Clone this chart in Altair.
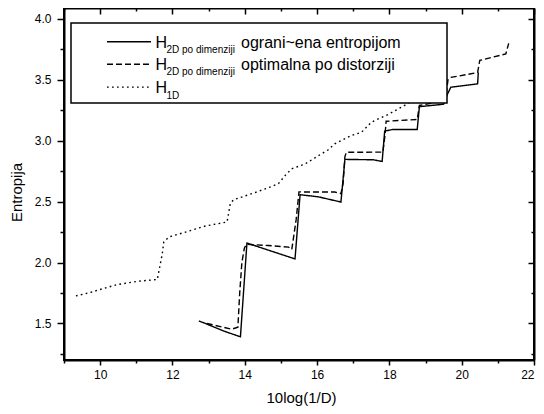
import altair as alt
import pandas as pd

# ---- data ----
h1d_x = [9.33, 9.79, 9.93, 10.48, 11.07, 11.58, 11.63, 11.72, 11.76, 11.90, 12.36, 12.91,
         13.51, 13.60, 13.69, 14.20, 14.66, 14.93, 15.12, 15.30, 15.67, 15.94, 16.31, 16.49,
         16.95, 17.23, 17.50, 17.69, 17.96, 18.42, 19.00]
h1d_y = [1.726, 1.759, 1.773, 1.820, 1.847, 1.861, 1.937, 2.074, 2.169, 2.210, 2.250, 2.300,
         2.333, 2.484, 2.516, 2.566, 2.615, 2.648, 2.716, 2.770, 2.810, 2.860, 2.926, 2.975,
         3.043, 3.070, 3.152, 3.180, 3.215, 3.290, 3.400]

ent_x = [12.73, 12.87, 13.40, 13.88, 14.06, 15.39, 15.53, 16.03, 16.66, 16.77, 17.55, 17.80,
         17.87, 18.10, 18.77, 18.83, 19.50, 19.61, 19.70, 20.44, 20.46]
ent_y = [1.520, 1.505, 1.440, 1.390, 2.160, 2.030, 2.557, 2.540, 2.497, 2.847, 2.844, 2.830,
         3.079, 3.093, 3.093, 3.280, 3.300, 3.385, 3.440, 3.467, 3.560]

dist_x = [12.95, 13.64, 13.81, 13.86, 13.92, 13.99, 14.05, 14.65, 15.21, 15.30, 15.42, 15.50,
          16.49, 16.66, 16.72, 16.77, 16.81, 17.82, 17.88, 17.91, 18.77, 18.83, 19.55, 19.62,
          19.70, 20.44, 20.50, 21.22, 21.30]
dist_y = [1.500, 1.453, 1.470, 1.750, 2.000, 2.120, 2.150, 2.140, 2.127, 2.107, 2.350, 2.580,
          2.579, 2.565, 2.650, 2.870, 2.905, 2.907, 3.050, 3.160, 3.175, 3.290, 3.330, 3.500,
          3.520, 3.560, 3.660, 3.713, 3.800]

series_keys = ["ent", "dist", "h1d"]
legend_sub = ["2D po dimenziji", "2D po dimenziji", "1D"]
legend_main = ["ograni~ena entropijom", "optimalna po distorziji", ""]

x_domain = [9, 22]
y_domain = [1.2, 4.09]
x_major = [10, 12, 14, 16, 18, 20, 22]
x_minor = [9, 11, 13, 15, 17, 19, 21]
y_major = [1.5, 2.0, 2.5, 3.0, 3.5, 4.0]
y_minor = [1.25, 1.75, 2.25, 2.75, 3.25, 3.75]

# ---- build table ----
frames = []
for key, xs_, ys_ in zip(series_keys, [ent_x, dist_x, h1d_x], [ent_y, dist_y, h1d_y]):
    frames.append(pd.DataFrame({"x": xs_, "y": ys_, "series": key, "i": range(len(xs_))}))
df = pd.concat(frames, ignore_index=True)

FONT = "Liberation Sans"
dashes = [[1, 0], [6, 3], [1.7, 3.3]]

xs = alt.Scale(domain=x_domain, nice=False, zero=False)
ys = alt.Scale(domain=y_domain, nice=False, zero=False)


def axis_layer(xaxis, yaxis):
    return alt.Chart(df).mark_point(opacity=0, size=1).encode(
        x=alt.X("x:Q", scale=xs, axis=xaxis),
        y=alt.Y("y:Q", scale=ys, axis=yaxis),
    )


common = dict(grid=False, tickColor="black", tickWidth=1.5,
              labelFont=FONT, labelFontSize=12, labelColor="black")

lines = alt.Chart(df).mark_line(color="black", strokeWidth=1.4).encode(
    x=alt.X("x:Q", scale=xs, axis=alt.Axis(
        orient="bottom", values=x_major, tickSize=5, labelPadding=4,
        domain=True, domainColor="black", domainWidth=2,
        title="10log(1/D)", titleFont=FONT, titleFontSize=15, titleFontWeight="normal",
        titleColor="black", titleX=237, titleY=42, titleAlign="center",
        titleBaseline="alphabetic", **common)),
    y=alt.Y("y:Q", scale=ys, axis=alt.Axis(
        orient="left", values=y_major, tickSize=7, labelPadding=6, format=".1f",
        domain=True, domainColor="black", domainWidth=2,
        title="Entropija", titleFont=FONT, titleFontSize=15, titleFontWeight="normal",
        titleColor="black", titleX=-43, titleY=184, titleAlign="center",
        titleBaseline="alphabetic", **common)),
    strokeDash=alt.StrokeDash("series:N", scale=alt.Scale(domain=series_keys, range=dashes),
                              legend=None),
    detail="series:N",
    order="i:Q",
)

minor_bl = axis_layer(
    alt.Axis(orient="bottom", values=x_minor, tickSize=3, labels=False, domain=False, title=None, **common),
    alt.Axis(orient="left", values=y_minor, tickSize=4, labels=False, domain=False, title=None, **common),
)
major_tr = axis_layer(
    alt.Axis(orient="top", values=x_major, tickSize=6, offset=-6, labels=False, domain=False,
             title=None, **common),
    alt.Axis(orient="right", values=y_major, tickSize=6, offset=-6, labels=False, domain=False,
             title=None, **common),
)
minor_tr = axis_layer(
    alt.Axis(orient="top", values=x_minor, tickSize=3, offset=-3, labels=False, domain=False,
             title=None, **common),
    alt.Axis(orient="right", values=y_minor, tickSize=3, offset=-3, labels=False, domain=False,
             title=None, **common),
)
frame_tr = axis_layer(
    alt.Axis(orient="top", ticks=False, labels=False, domain=True, domainColor="black",
             domainWidth=2, title=None, grid=False),
    alt.Axis(orient="right", ticks=False, labels=False, domain=True, domainColor="black",
             domainWidth=2, title=None, grid=False),
)

# ---- hand-built legend (for subscripts) ----
one = pd.DataFrame({"k": [0]})
legend_layers = [
    alt.Chart(one).mark_rect(fill="white", stroke="black", strokeWidth=1.5).encode(
        x=alt.value(7), x2=alt.value(383), y=alt.value(15), y2=alt.value(95))
]
row_y = [0, 22.6, 45.4]
for r, (dash, sub, main) in enumerate(zip(dashes, legend_sub, legend_main)):
    dy = row_y[r]
    legend_layers.append(
        alt.Chart(one).mark_rule(color="black", strokeWidth=1.4, strokeDash=dash).encode(
            x=alt.value(43), x2=alt.value(87), y=alt.value(33.7 + dy)))
    legend_layers.append(
        alt.Chart(one).mark_text(align="left", baseline="alphabetic", font=FONT, fontSize=16,
                                 color="black").encode(
            x=alt.value(91.5), y=alt.value(39.7 + dy), text=alt.value("H")))
    legend_layers.append(
        alt.Chart(one).mark_text(align="left", baseline="alphabetic", font=FONT, fontSize=10,
                                 color="black").encode(
            x=alt.value(102.5), y=alt.value(44.5 + dy + (1.5 if r == 2 else 0)),
            text=alt.value(sub)))
    if main:
        legend_layers.append(
            alt.Chart(one).mark_text(align="left", baseline="alphabetic", font=FONT, fontSize=16,
                                     color="black").encode(
                x=alt.value(177), y=alt.value(39.7 + dy), text=alt.value(main)))

chart = alt.layer(lines, minor_bl, major_tr, minor_tr, frame_tr, *legend_layers).resolve_scale(
    x="shared", y="shared"
).resolve_axis(
    x="independent", y="independent"
).properties(
    width=470, height=352,
    padding={"left": 56, "top": 0, "right": 2, "bottom": 46},
    autosize=alt.AutoSizeParams(type="none"),
    background="white",
).configure_view(
    stroke="black", strokeWidth=2, strokeOpacity=1
)

chart.save("out.html", embed_options={"renderer": "svg", "actions": False})
